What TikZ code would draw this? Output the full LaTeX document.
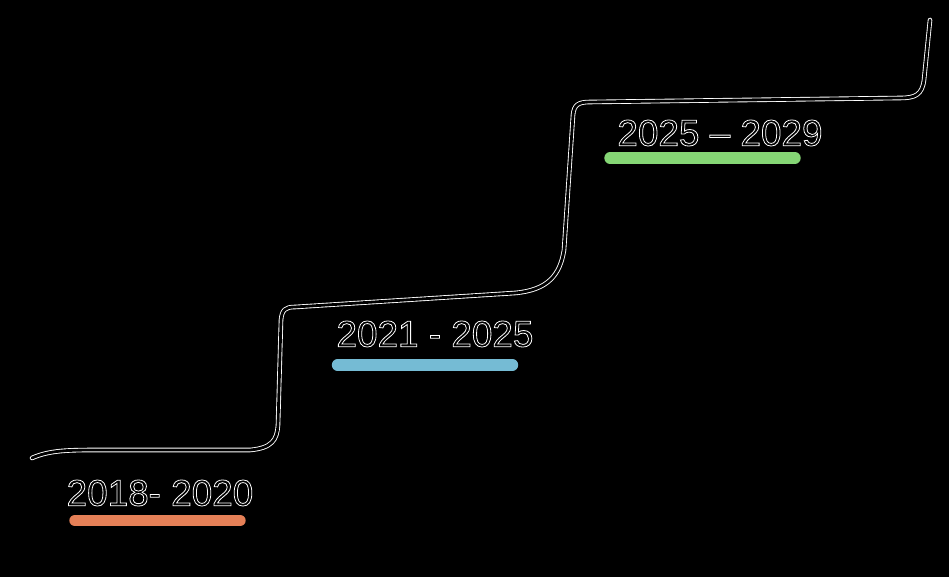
\documentclass[tikz,border=0pt]{standalone}
\usepackage{fontspec}
\setmainfont{Liberation Sans}
\usepackage{xcolor}
\usetikzlibrary{positioning}

\definecolor{peach}{HTML}{F2875C}
\definecolor{skyblue}{HTML}{7CC6E0}
\definecolor{lightgreen}{HTML}{8DE27C}

% outlined digits, like the pencil strokes
\newcommand{\hollow}[1]{\special{pdf:code 1 Tr 0.45 w}#1\special{pdf:code 0 Tr}}

\begin{document}
\begin{tikzpicture}[
		x=0.02cm, y=-0.02cm,
		stair/.style={draw=white, double=black, double distance=1.6pt, line width=0.5pt, line cap=round},
		yearlabel/.style={text=white, font=\fontsize{21}{24}\selectfont},
		hiline/.style={line width=6.5pt, line cap=round, opacity=0.95}
	]
	
	% background
	\fill[black] (0,0) rectangle (949,577);
	\useasboundingbox (0,0) rectangle (949,577);
	
	% the staircase
	\coordinate (start) at (32,458);
	\coordinate (top) at (930,20);
	\draw[stair] (start) .. controls (50,450) and (70,450) .. (100,450)
		-- (250,450) .. controls (272,448) and (277,440) .. (278,425)
		-- (281,320) .. controls (282,310) and (285,307) .. (295,307)
		-- (515,293) .. controls (548,290) and (560,275) .. (564,250)
		-- (573,115) .. controls (574,105) and (578,102) .. (590,102)
		-- (900,98) .. controls (915,98) and (922,95) .. (924,80)
		-- (top);
	
	% the periods
	\node[yearlabel] (first) at (160,493) {\hollow{2018- 2020}};
	\node[yearlabel] (second) at (435,334) {\hollow{2021 - 2025}};
	\node[yearlabel] (third) at (720,133) {\hollow{2025 -- 2029}};
	
	% coloured marks under the periods
	\draw[hiline, peach] ([xshift=-1.7cm, yshift=-0.55cm]first.center) -- ([xshift=1.6cm, yshift=-0.55cm]first.center);
	\draw[hiline, skyblue] ([xshift=-1.95cm, yshift=-0.62cm]second.center) -- ([xshift=1.55cm, yshift=-0.62cm]second.center);
	\draw[hiline, lightgreen] ([xshift=-2.2cm, yshift=-0.5cm]third.center) -- ([xshift=1.5cm, yshift=-0.5cm]third.center);
	
\end{tikzpicture}
\end{document}
